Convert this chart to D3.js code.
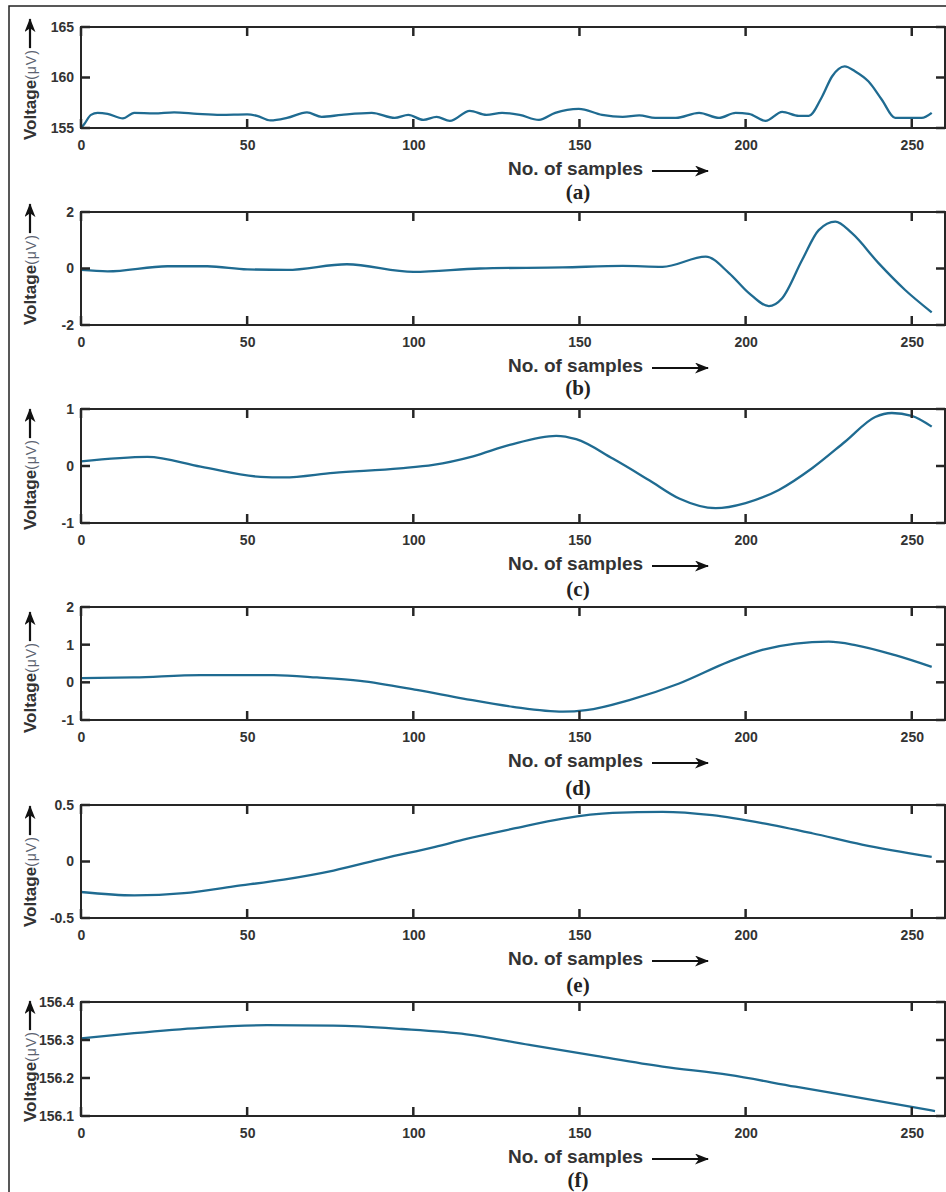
<!DOCTYPE html>
<html>
<head>
<meta charset="utf-8">
<script src="https://cdn.jsdelivr.net/npm/d3@7"></script>
<style>
    body { margin: 0; background: #fff; }
    svg { display: block; font-family: "Liberation Sans", Arial, sans-serif; }
</style>
</head>
<body>
<div id="chart"></div>
<script>
// sample positions and voltages
const samplesA = [0, 1, 3, 5, 8, 12.6, 16, 22, 28, 35, 42, 50, 53, 57, 62, 68, 72.4, 78.4, 87.5, 94.4, 98.5, 103, 107, 111, 117, 122, 126.7, 132, 137.8, 142.7, 149.8, 156.8, 163, 168, 172.8, 179, 186, 192, 197, 201, 206, 211, 216, 219, 223, 226, 229.8, 233, 237, 241, 245, 250, 253, 256];
const voltsA = [155.0, 155.4, 156.3, 156.5, 156.4, 155.95, 156.5, 156.45, 156.55, 156.4, 156.3, 156.35, 156.2, 155.75, 156.0, 156.55, 156.1, 156.3, 156.5, 156.0, 156.3, 155.8, 156.1, 155.7, 156.7, 156.3, 156.5, 156.3, 155.8, 156.5, 156.9, 156.3, 156.1, 156.25, 156.0, 156.0, 156.5, 156.0, 156.5, 156.4, 155.7, 156.6, 156.2, 156.2, 158.1, 160.1, 161.1, 160.6, 159.6, 157.8, 156.0, 156.0, 156.0, 156.5];

const samplesB = [0, 8, 26, 38, 50, 62, 80, 100, 120, 145, 163, 175, 188, 195, 201, 207, 211, 217, 222, 227, 232, 240, 248, 256];
const voltsB = [-0.05, -0.1, 0.08, 0.08, -0.03, -0.05, 0.15, -0.12, 0.0, 0.04, 0.09, 0.06, 0.42, -0.16, -0.87, -1.33, -1.05, 0.3, 1.36, 1.66, 1.25, 0.19, -0.76, -1.55];

const samplesC = [0, 20, 36, 54, 61, 76, 96, 106, 118, 129, 143, 149, 160, 171, 180, 191, 200, 210, 220, 230, 239, 244, 250, 256];
const voltsC = [0.08, 0.16, -0.01, -0.19, -0.2, -0.12, -0.04, 0.02, 0.17, 0.37, 0.53, 0.47, 0.13, -0.25, -0.57, -0.74, -0.65, -0.42, -0.04, 0.43, 0.86, 0.93, 0.88, 0.69];

const samplesD = [0, 16, 36, 58, 71, 84, 101, 115, 130, 145, 152, 165, 180, 195, 205, 215, 225, 233, 245, 256];
const voltsD = [0.11, 0.13, 0.19, 0.19, 0.13, 0.04, -0.2, -0.43, -0.65, -0.78, -0.74, -0.47, -0.03, 0.55, 0.86, 1.03, 1.08, 0.99, 0.72, 0.41];

const samplesE = [0, 16, 31, 46, 61, 76, 91.5, 106.6, 116, 130, 145, 160, 175, 190, 205, 220, 235, 256];
const voltsE = [-0.27, -0.3, -0.28, -0.22, -0.16, -0.08, 0.03, 0.13, 0.2, 0.29, 0.38, 0.43, 0.44, 0.41, 0.34, 0.25, 0.15, 0.04];

const samplesF = [0, 16, 36, 56, 76, 96.5, 116, 135, 155, 175, 195, 215, 235, 257];
const voltsF = [156.304, 156.318, 156.332, 156.339, 156.338, 156.329, 156.315, 156.287, 156.258, 156.230, 156.208, 156.177, 156.147, 156.113];

const xTicks = [0, 50, 100, 150, 200, 250];
const yTicksA = [155, 160, 165];
const yTicksB = [-2, 0, 2];
const yTicksC = [-1, 0, 1];
const yTicksD = [-1, 0, 1, 2];
const yTicksE = [-0.5, 0, 0.5];
const yTicksF = [156.1, 156.2, 156.3, 156.4];
const panelNames = ['(a)', '(b)', '(c)', '(d)', '(e)', '(f)'];

// layout of the six stacked boxes
const boxTops = [27, 212, 409, 607, 805, 1002];
const boxBottoms = [128, 325, 523, 720, 918, 1116];
const yLabelShift = [12, 0, 7, 13, 9, 6];
const nameShift = [71, 70, 73, 75, 74, 71];

const panels = [
    {xs: samplesA, ys: voltsA, ticks: yTicksA},
    {xs: samplesB, ys: voltsB, ticks: yTicksB},
    {xs: samplesC, ys: voltsC, ticks: yTicksC},
    {xs: samplesD, ys: voltsD, ticks: yTicksD},
    {xs: samplesE, ys: voltsE, ticks: yTicksE},
    {xs: samplesF, ys: voltsF, ticks: yTicksF}
];

const W = 946, H = 1192;
const TICK = 9;
const boxColor = '#262626';
const lineColor = '#1f6b91';

const svg = d3.select('#chart').append('svg')
    .attr('width', W)
    .attr('height', H);

svg.append('defs').append('marker')
    .attr('id', 'head')
    .attr('viewBox', '0 0 14 11')
    .attr('refX', 13).attr('refY', 5.5)
    .attr('markerWidth', 14).attr('markerHeight', 11)
    .attr('markerUnits', 'userSpaceOnUse')
    .attr('orient', 'auto')
    .append('path')
    .attr('d', 'M0,0 L14,5.5 L0,11 L4,5.5 Z')
    .attr('fill', '#111');

//outer frame of the figure
svg.append('path')
    .attr('d', `M9,${H} V6 H${W}`)
    .attr('fill', 'none')
    .attr('stroke', '#222')
    .attr('stroke-width', 1.5);

const x = d3.scaleLinear().domain([0, 260]).range([81, 945]);

panels.forEach((p, i) => {
    const top = boxTops[i], bottom = boxBottoms[i];
    const ext = d3.extent(p.ticks);
    const y = d3.scaleLinear().domain(ext).range([bottom, top]);
    const g = svg.append('g');

    //signal trace
    g.append('path')
        .datum(d3.zip(p.xs, p.ys))
        .attr('d', d3.line()
            .x(d => x(d[0]))
            .y(d => y(d[1]))
            .curve(d3.curveMonotoneX))
        .attr('fill', 'none')
        .attr('stroke', lineColor)
        .attr('stroke-width', 2.3);

    //tick labels from the axis generators
    const fmt = d => String(d);
    g.append('g').attr('transform', `translate(0,${bottom})`)
        .call(d3.axisBottom(x).tickValues(xTicks).tickSize(0).tickPadding(12).tickFormat(fmt));
    g.append('g').attr('transform', `translate(${x(0)},0)`)
        .call(d3.axisLeft(y).tickValues(p.ticks).tickSize(0).tickPadding(7).tickFormat(fmt));

    g.selectAll('.domain').remove();
    g.selectAll('.tick line').remove();
    g.selectAll('.tick text')
        .attr('fill', '#333')
        .style('font-size', '14px')
        .style('font-weight', 'bold')
        .style('font-family', '"Liberation Sans", Arial, sans-serif');

    //inward tick marks on all four sides
    const marks = g.append('g')
        .attr('stroke', boxColor)
        .attr('stroke-width', 2.5);
    marks.selectAll('line.xb').data(xTicks).join('line')
        .attr('x1', d => x(d)).attr('x2', d => x(d))
        .attr('y1', bottom).attr('y2', bottom - TICK);
    marks.selectAll('line.xt').data(xTicks).join('line')
        .attr('x1', d => x(d)).attr('x2', d => x(d))
        .attr('y1', top).attr('y2', top + TICK);
    marks.selectAll('line.yl').data(p.ticks).join('line')
        .attr('x1', x(0)).attr('x2', x(0) + TICK)
        .attr('y1', d => y(d)).attr('y2', d => y(d));
    marks.selectAll('line.yr').data(p.ticks).join('line')
        .attr('x1', x(260)).attr('x2', x(260) - TICK)
        .attr('y1', d => y(d)).attr('y2', d => y(d));

    g.append('rect')
        .attr('x', x(0)).attr('y', top)
        .attr('width', x(260) - x(0)).attr('height', bottom - top)
        .attr('fill', 'none')
        .attr('stroke', boxColor)
        .attr('stroke-width', 2);

    //y label: Voltage(μV) with upward arrow
    const yl = g.append('g')
        .attr('transform', `translate(36,${bottom + yLabelShift[i]}) rotate(-90)`);
    const yt = yl.append('text').attr('x', 0).attr('y', 0).attr('fill', '#333');
    yt.append('tspan').text('Voltage')
        .style('font-size', '17px').style('font-weight', 'bold');
    yt.append('tspan').text('(μV)')
        .style('font-size', '14px').style('letter-spacing', '1px').attr('fill', '#5b6270');
    const len = yt.node().getComputedTextLength();
    yl.append('line')
        .attr('x1', len + 1).attr('x2', len + 30)
        .attr('y1', -6).attr('y2', -6)
        .attr('stroke', '#111').attr('stroke-width', 2.2)
        .attr('marker-end', 'url(#head)');

    //x label with arrow
    g.append('text')
        .attr('x', 508).attr('y', bottom + 47)
        .attr('fill', '#333')
        .style('font-size', '19px').style('font-weight', 'bold')
        .text('No. of samples');
    g.append('line')
        .attr('x1', 652).attr('x2', 708)
        .attr('y1', bottom + 43).attr('y2', bottom + 43)
        .attr('stroke', '#111').attr('stroke-width', 2.2)
        .attr('marker-end', 'url(#head)');

    //panel name
    g.append('text')
        .attr('x', 578).attr('y', bottom + nameShift[i])
        .attr('text-anchor', 'middle')
        .attr('fill', '#222')
        .style('font-family', '"Liberation Serif", "DejaVu Serif", serif')
        .style('font-size', '21px').style('font-weight', 'bold')
        .text(panelNames[i]);
});
</script>
</body>
</html>
